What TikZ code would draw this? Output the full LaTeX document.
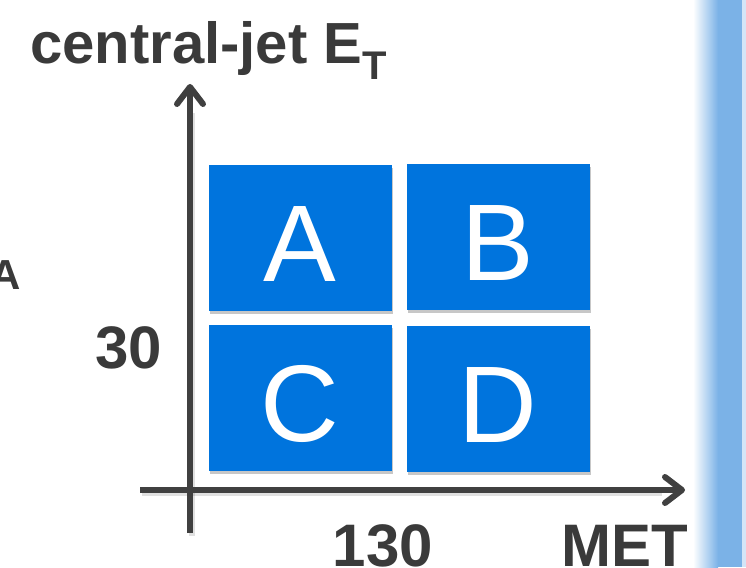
\documentclass[tikz,border=0pt]{standalone}
\usepackage{fontspec}
\setmainfont{Liberation Sans}
\usetikzlibrary{arrows.meta,shadows}
\definecolor{txtgray}{HTML}{3A3A3A}
\definecolor{axisgray}{HTML}{404040}
\definecolor{boxblue}{HTML}{0074DD}
\definecolor{barblue}{HTML}{7BB2E7}
\definecolor{barpale}{HTML}{D4E5F7}
\tikzset{
  region/.style={fill=boxblue, inner sep=0pt, minimum width=183pt, minimum height=146pt,
    text=white, font=\fontsize{109}{109}\selectfont, text height=86pt, text depth=0pt,
    drop shadow={shadow xshift=1pt, shadow yshift=-3pt, opacity=0.22, fill=black}},
  axisline/.style={draw=axisgray, line width=6pt,
    -{Straight Barb[length=17pt, width=26pt, line cap=round, line join=round]}},
  axisshadow/.style={draw=black, opacity=0.12, line width=6pt},
  axlabel/.style={text=txtgray, font=\fontsize{60}{60}\bfseries\selectfont, inner sep=0pt, anchor=base},
}
\begin{document}
\begin{tikzpicture}[x=1pt, y=-1pt]
\useasboundingbox (0,0) rectangle (746,567);
\clip (0,0) rectangle (746,567);
% right side bar
\shade[left color=white, right color=barblue] (693,0) rectangle (718,567);
\fill[barblue] (718,0) rectangle (742,567);
\fill[barpale] (742,0) rectangle (746,567);
% title
\node[anchor=base west, inner sep=0pt, text=txtgray] (title) at (30,64)
  {\fontsize{58}{58}\bfseries\selectfont central-jet E\raisebox{-16pt}{\fontsize{40}{40}\bfseries\selectfont T}};
% partial label at left edge
\node[anchor=base east, inner sep=0pt, text=txtgray, font=\fontsize{42}{42}\bfseries\selectfont] (leftA) at (21,289) {A};
% axes
\coordinate (ybot) at (190,533);
\coordinate (ytop) at (190,84);
\coordinate (xleft) at (140,490);
\coordinate (xright) at (685,490);
\draw[axisshadow] ([shift={(2,3)}]ybot) -- ([shift={(2,3)}]190,110);
\draw[axisshadow] ([shift={(2,3)}]xleft) -- ([shift={(2,3)}]660,490);
\draw[axisline] (ybot) -- (ytop);
\draw[axisline] (xleft) -- (xright);
% regions
\node[region] (A) at (300,238) {A};
\node[region] (B) at (498,237) {B};
\node[region] (C) at (300,398) {C};
\node[region] (D) at (498,399) {D};
% axis labels
\node[axlabel] (thirty) at (129,368) {30};
\node[axlabel] (onethirty) at (383,566) {130};
\node[axlabel] (met) at (625,566) {MET};
\end{tikzpicture}
\end{document}
